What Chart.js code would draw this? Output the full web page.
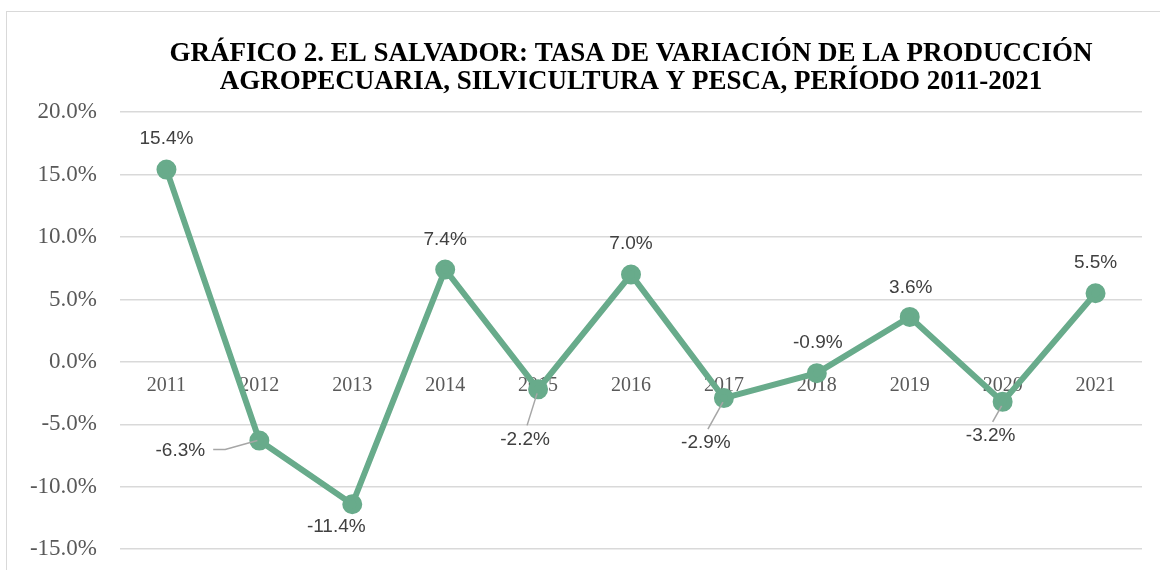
<!DOCTYPE html>
<html>
<head>
<meta charset="utf-8">
<script src="https://cdn.jsdelivr.net/npm/chart.js@4/dist/chart.umd.min.js"></script>
<style>
  html, body { margin: 0; padding: 0; background: #fff; overflow: hidden; }
  #wrap { position: relative; width: 1160px; height: 570px; overflow: hidden; }
  #frame { position: absolute; left: 6px; top: 11px; width: 1200px; height: 600px; border: 1px solid #d9d9d9; box-sizing: border-box; pointer-events: none; }
  canvas { position: absolute; left: 0; top: 0; }
</style>
</head>
<body>
<div id="wrap">
  <div id="frame"></div>
  <canvas id="chart" width="1160" height="586"></canvas>
</div>
<script>
// data
const years = ['2011', '2012', '2013', '2014', '2015', '2016', '2017', '2018', '2019', '2020', '2021'];
const growth = [15.4, -6.3, -11.4, 7.4, -2.2, 7.0, -2.9, -0.9, 3.6, -3.2, 5.5];
const yTicks = [20, 15, 10, 5, 0, -5, -10, -15];

const titleLines = [
    'GRÁFICO 2. EL SALVADOR: TASA DE VARIACIÓN DE LA PRODUCCIÓN',
    'AGROPECUARIA, SILVICULTURA Y PESCA, PERÍODO 2011-2021'
];

// where each value label sits relative to its point (styling, not data)
const labelPlacement = [
    { dx: 0, dy: -31 },
    { dx: -79, dy: 10, leader: 'left' },
    { dx: -16, dy: 23 },
    { dx: 0, dy: -30 },
    { dx: -13, dy: 50, leader: 'down' },
    { dx: 0, dy: -31 },
    { dx: -18, dy: 45, leader: 'down' },
    { dx: 1, dy: -30 },
    { dx: 1, dy: -29 },
    { dx: -12, dy: 34, leader: 'down' },
    { dx: 0, dy: -30 }
];

const pct = v => v.toFixed(1) + '%';

// simple value labels (no datalabels plugin available offline)
const valueLabels = {
    id: 'valueLabels',
    afterDatasetsDraw(chart) {
        const ctx = chart.ctx;
        const meta = chart.getDatasetMeta(0);
        ctx.save();
        ctx.font = '19px "Liberation Sans", Arial, sans-serif';
        ctx.fillStyle = '#404040';
        ctx.textAlign = 'center';
        ctx.textBaseline = 'middle';
        meta.data.forEach((pt, i) => {
            const p = labelPlacement[i];
            const lx = pt.x + p.dx, ly = pt.y + p.dy;
            const txt = pct(growth[i]);
            if (p.leader) {
                ctx.strokeStyle = '#a6a6a6';
                ctx.lineWidth = 1.5;
                ctx.beginPath();
                if (p.leader === 'left') {
                    const w = ctx.measureText(txt).width;
                    ctx.moveTo(lx + w / 2 + 8, ly - 1);
                    ctx.lineTo(lx + w / 2 + 20, ly - 1);
                    ctx.lineTo(pt.x - 2, pt.y);
                } else {
                    ctx.moveTo(lx + 2, ly - 14);
                    ctx.lineTo(pt.x - 1, pt.y + 4);
                }
                ctx.stroke();
            }
            ctx.fillText(txt, lx, ly);
        });
        ctx.restore();
    }
};

const ctx = document.getElementById('chart').getContext('2d');
new Chart(ctx, {
    type: 'line',
    data: {
        labels: years,
        datasets: [{
            data: growth,
            borderColor: '#68ab8b',
            backgroundColor: '#68ab8b',
            borderWidth: 6,
            pointRadius: 7,
            pointHoverRadius: 7,
            tension: 0,
            fill: false
        }]
    },
    options: {
        responsive: false,
        animation: false,
        layout: { padding: { left: 0, right: 18, top: 0, bottom: 0 } },
        plugins: {
            legend: { display: false },
            tooltip: { enabled: false },
            title: {
                display: true,
                fullSize: false,
                text: titleLines,
                color: '#000',
                font: { family: '"Liberation Serif", "Times New Roman", serif', size: 27, weight: 'bold', lineHeight: 1.04 },
                padding: { top: 40, bottom: 16 }
            }
        },
        scales: {
            x: {
                position: { y: 0 },
                offset: true,
                grid: { display: false, drawTicks: false },
                border: { display: false },
                ticks: {
                    color: '#595959',
                    padding: 12,
                    font: { family: '"Liberation Serif", "Times New Roman", serif', size: 20 }
                }
            },
            y: {
                min: -15,
                max: 20,
                afterFit(scale) { scale.width = 120; },
                afterBuildTicks(scale) { scale.ticks = yTicks.map(v => ({ value: v })); },
                grid: { color: '#d9d9d9', lineWidth: 1.5, drawTicks: false },
                border: { display: false },
                ticks: {
                    color: '#595959',
                    padding: 23,
                    font: { family: '"Liberation Serif", "Times New Roman", serif', size: 23 },
                    callback: v => pct(v)
                }
            }
        }
    },
    plugins: [valueLabels]
});
</script>
</body>
</html>
